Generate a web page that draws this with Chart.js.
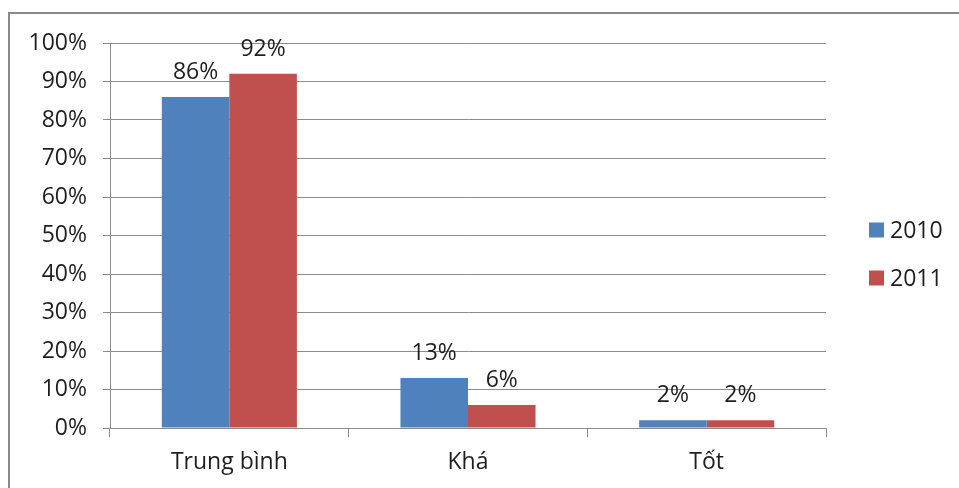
<!DOCTYPE html>
<html>
<head>
<meta charset="utf-8">
<script src="https://cdn.jsdelivr.net/npm/chart.js@4.4.1/dist/chart.umd.min.js"></script>
<style>
  html, body { margin: 0; padding: 0; background: #fff; }
  #wrap { position: relative; width: 959px; height: 488px; overflow: hidden; }
  #frame { position: absolute; left: 8px; top: 12px; width: 960px; height: 490px;
           border-left: 2px solid #8a8a8a; border-top: 2px solid #8a8a8a; box-sizing: border-box; }
  canvas { position: absolute; left: 0; top: 0; }
</style>
</head>
<body>
<div id="wrap">
  <div id="frame"></div>
  <canvas id="c" width="959" height="488"></canvas>
</div>
<script>
// Xếp loại học lực theo năm (%)
const categories = ["Trung bình", "Khá", "Tốt"];
const series2010 = [86, 13, 2];
const series2011 = [92, 6, 2];
const seriesNames = ["2010", "2011"];
const yTicks = [0, 10, 20, 30, 40, 50, 60, 70, 80, 90, 100];

const FONT = "'Open Sans', 'DejaVu Sans', sans-serif";
const FSIZE = 23;
const TEXT = "#1e1e1e";
const GRID = "#8c8c8c";

// Value labels above each bar
const valueLabels = {
  id: "valueLabels",
  afterDatasetsDraw(chart) {
    const ctx = chart.ctx;
    ctx.save();
    ctx.font = FSIZE + "px " + FONT;
    ctx.fillStyle = TEXT;
    ctx.textAlign = "center";
    ctx.textBaseline = "alphabetic";
    chart.data.datasets.forEach((ds, i) => {
      chart.getDatasetMeta(i).data.forEach((bar, j) => {
        ctx.fillText(ds.data[j] + "%", bar.x, bar.y - 18);
      });
    });
    ctx.restore();
  }
};

// Legend on the right, vertically stacked
const sideLegend = {
  id: "sideLegend",
  afterDraw(chart) {
    const ctx = chart.ctx;
    ctx.save();
    ctx.font = FSIZE + "px " + FONT;
    ctx.textBaseline = "middle";
    ctx.textAlign = "left";
    chart.data.datasets.forEach((ds, i) => {
      const cy = 230 + i * 48;
      ctx.fillStyle = ds.backgroundColor;
      ctx.fillRect(869, cy - 7.5, 15, 15);
      ctx.fillStyle = TEXT;
      ctx.fillText(ds.label, 890, cy + 1);
    });
    ctx.restore();
  }
};

new Chart(document.getElementById("c"), {
  type: "bar",
  data: {
    labels: categories,
    datasets: [
      { label: seriesNames[0], data: series2010, backgroundColor: "#4f81bd" },
      { label: seriesNames[1], data: series2011, backgroundColor: "#c0504d" }
    ]
  },
  options: {
    responsive: false,
    animation: false,
    events: [],
    layout: { padding: { left: 0, top: 43, right: 133, bottom: 0 } },
    datasets: { bar: { categoryPercentage: 0.566, barPercentage: 1.0 } },
    plugins: { legend: { display: false }, tooltip: { enabled: false } },
    scales: {
      x: {
        grid: { display: true, drawOnChartArea: false, drawTicks: true, tickLength: 9, color: GRID, lineWidth: 1 },
        border: { display: true, color: GRID, width: 1 },
        ticks: { color: TEXT, font: { family: FONT, size: FSIZE }, padding: 12 },
        afterFit(scale) { scale.height = 60; }
      },
      y: {
        min: 0, max: 100,
        afterBuildTicks(scale) { scale.ticks = yTicks.map(v => ({ value: v })); },
        grid: { color: GRID, lineWidth: 1, drawTicks: true, tickLength: 7 },
        border: { display: true, color: GRID, width: 1 },
        ticks: { color: TEXT, font: { family: FONT, size: FSIZE }, padding: 16,
                 callback: v => v + "%" },
        afterFit(scale) { scale.width = 110; }
      }
    }
  },
  plugins: [valueLabels, sideLegend]
});
</script>
</body>
</html>
